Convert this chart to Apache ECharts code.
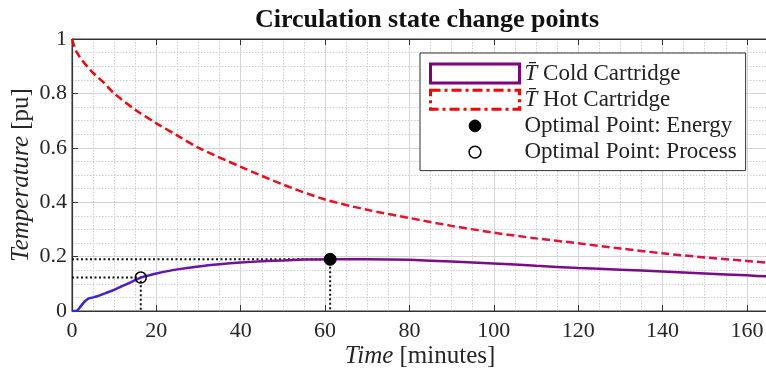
<!DOCTYPE html>
<html><head><meta charset="utf-8">
<script src="https://cdn.jsdelivr.net/npm/echarts@6/dist/echarts.min.js"></script>
<style>html,body{margin:0;padding:0;background:#fff}#c{width:766px;height:374px}</style>
</head><body><div id="c"></div>
<script>
// ---- data ----
const hotTime = [0, 0.5, 1, 2, 3, 5, 7.5, 10, 15, 20, 25, 30, 40, 50, 60, 70, 80, 90, 100, 110, 120, 130, 140, 150, 160, 165];
const hotTemp = [1.0, 0.975, 0.955, 0.93, 0.91, 0.875, 0.84, 0.80, 0.74, 0.69, 0.645, 0.60, 0.53, 0.465, 0.41, 0.372, 0.342, 0.313, 0.288, 0.267, 0.249, 0.23, 0.212, 0.197, 0.184, 0.177];
const coldTime = [0, 1, 1.5, 2, 3, 4, 5, 6, 7, 8, 10, 12, 14, 16.3, 18, 20, 25, 30, 35, 40, 45, 50, 55, 61.2, 70, 80, 90, 100, 110, 120, 130, 140, 150, 160, 165];
const coldTemp = [0, 0, 0.006, 0.016, 0.035, 0.046, 0.05, 0.054, 0.06, 0.066, 0.078, 0.092, 0.106, 0.123, 0.13, 0.138, 0.153, 0.164, 0.172, 0.178, 0.183, 0.186, 0.189, 0.19, 0.19, 0.188, 0.182, 0.175, 0.166, 0.158, 0.152, 0.145, 0.138, 0.131, 0.127];
const energyPoint = [61.2, 0.19];
const processPoint = [16.3, 0.123];
const xTicks = [0, 20, 40, 60, 80, 100, 120, 140, 160];
const yTicks = [0, 0.2, 0.4, 0.6, 0.8, 1];

const names = ['Cold Cartridge', 'Hot Cartridge', 'Optimal Point: Energy', 'Optimal Point: Process'];
const zip = (a, b) => a.map((v, i) => [v, b[i]]);
const serif = 'Liberation Serif';
const txt = '#262626';

const chart = echarts.init(document.getElementById('c'), null, {renderer: 'canvas'});
const circlePath = 'path://M0,0h0.01M10,10h0.01M1.9,5a3.1,3.1 0 1,0 6.2,0a3.1,3.1 0 1,0 -6.2,0z';

chart.setOption({
  animation: false,
  title: {
    text: 'Circulation state change points', left: 422, top: 2, textAlign: 'center',
    textStyle: {fontFamily: serif, fontWeight: 'bold', fontSize: 26, color: '#111'}
  },
  grid: {left: 72, top: 39, width: 696, height: 272, show: true, borderColor: '#333', borderWidth: 1,
    backgroundColor: '#fff', containLabel: false, outerBoundsMode: 'none'},
  legend: {
    orient: 'vertical', left: 420, top: 53, padding: [8, 9, 6, 9],
    itemWidth: 89, itemHeight: 19, itemGap: 1.2,
    backgroundColor: '#fff', borderColor: '#333', borderWidth: 1,
    textStyle: {fontFamily: serif, fontSize: 23, lineHeight: 25, color: '#222', rich: {t: {fontFamily: serif, fontStyle: 'italic', fontSize: 23, lineHeight: 25, color: '#222'}}},
    formatter: n => (n === names[0] || n === names[1]) ? '{t|T\u0304} ' + n : n,
    data: [
      {name: names[0], icon: 'rect', itemStyle: {color: '#fff', borderColor: '#800080', borderWidth: 3}},
      {name: names[1], icon: 'rect', itemStyle: {color: '#fff', borderColor: '#ff0000', borderWidth: 3, borderType: [10, 4, 3, 4]}},
      {name: names[2], icon: circlePath, itemStyle: {color: '#000', borderColor: '#000', borderWidth: 1}},
      {name: names[3], icon: circlePath, itemStyle: {color: '#fff', borderColor: '#000', borderWidth: 1.5}}
    ]
  },
  xAxis: [{
    type: 'value', min: 0, max: 165, interval: 20,
    name: '{i|Time} [minutes]', nameLocation: 'middle', nameGap: 33, nameMoveOverlap: false,
    nameTextStyle: {fontFamily: serif, fontSize: 25, color: txt, rich: {i: {fontFamily: serif, fontStyle: 'italic', fontSize: 25, color: txt}}},
    axisLine: {show: true, lineStyle: {color: '#333', width: 1.2}},
    axisTick: {inside: true, length: 6, lineStyle: {color: '#333'}},
    axisLabel: {fontFamily: serif, fontSize: 22, color: txt, margin: 9,
      formatter: v => xTicks.includes(v) ? String(v) : ''},
    splitLine: {show: true, lineStyle: {color: '#d4d4d4', width: 1}},
    minorTick: {show: false, splitNumber: 4},
    minorSplitLine: {show: true, lineStyle: {color: '#cfcfcf', type: [1.5, 1.5], width: 1}}
  }, {
    type: 'value', position: 'top', min: 0, max: 165, interval: 20,
    axisLine: {show: true, onZero: false, lineStyle: {color: '#333', width: 1.2}},
    axisTick: {inside: true, length: 6, lineStyle: {color: '#333'}},
    axisLabel: {show: false}, splitLine: {show: false}
  }],
  yAxis: {
    type: 'value', min: 0, max: 1, interval: 0.2,
    name: '{i|Temperature} [pu]', nameLocation: 'middle', nameGap: 38, nameRotate: 90, nameMoveOverlap: false,
    nameTextStyle: {fontFamily: serif, fontSize: 25, color: txt, rich: {i: {fontFamily: serif, fontStyle: 'italic', fontSize: 25, color: txt}}},
    axisLine: {show: true, lineStyle: {color: '#333', width: 1.2}},
    axisTick: {inside: true, length: 6, lineStyle: {color: '#333'}},
    axisLabel: {fontFamily: serif, fontSize: 22, color: txt, margin: 5,
      formatter: v => { const r = Math.round(v * 10) / 10; return yTicks.includes(r) ? String(r) : ''; }},
    splitLine: {show: true, lineStyle: {color: '#d4d4d4', width: 1}},
    minorTick: {show: false, splitNumber: 4},
    minorSplitLine: {show: true, lineStyle: {color: '#cfcfcf', type: [1.5, 1.5], width: 1}}
  },
  series: [
    {
      name: names[1], type: 'line', data: zip(hotTime, hotTemp), showSymbol: false, smooth: 0.3, z: 3,
      lineStyle: {width: 2.5, type: [8, 4],
        color: new echarts.graphic.LinearGradient(0, 0, 1, 0, [{offset: 0, color: '#ff0000'}, {offset: 0.5, color: '#f0102a'}, {offset: 1, color: '#d8104a'}])}
    },
    {
      name: names[0], type: 'line', data: zip(coldTime, coldTemp), showSymbol: false, smooth: 0.2, z: 3,
      lineStyle: {width: 2.5,
        color: new echarts.graphic.LinearGradient(0, 0, 1, 0, [{offset: 0, color: '#2a2ae6'}, {offset: 0.15, color: '#6a14b0'}, {offset: 0.35, color: '#800a8a'}, {offset: 1, color: '#7a0a8c'}])}
    },
    {
      name: 'energyGuide', type: 'line', silent: true, showSymbol: false, z: 2,
      data: [[0, energyPoint[1]], energyPoint, [energyPoint[0], 0]],
      lineStyle: {color: '#111', width: 2, type: [2, 2.5]}
    },
    {
      name: 'processGuide', type: 'line', silent: true, showSymbol: false, z: 2,
      data: [[0, processPoint[1]], processPoint, [processPoint[0], 0]],
      lineStyle: {color: '#111', width: 2, type: [2, 2.5]}
    },
    {
      name: names[2], type: 'scatter', data: [energyPoint], symbolSize: 12, z: 5,
      itemStyle: {color: '#000', borderColor: '#000', borderWidth: 1, opacity: 1}
    },
    {
      name: names[3], type: 'scatter', data: [processPoint], symbolSize: 11, z: 5,
      itemStyle: {color: 'rgba(255,255,255,0)', borderColor: '#000', borderWidth: 1.5, opacity: 1}
    }
  ]
});
</script>
</body></html>
